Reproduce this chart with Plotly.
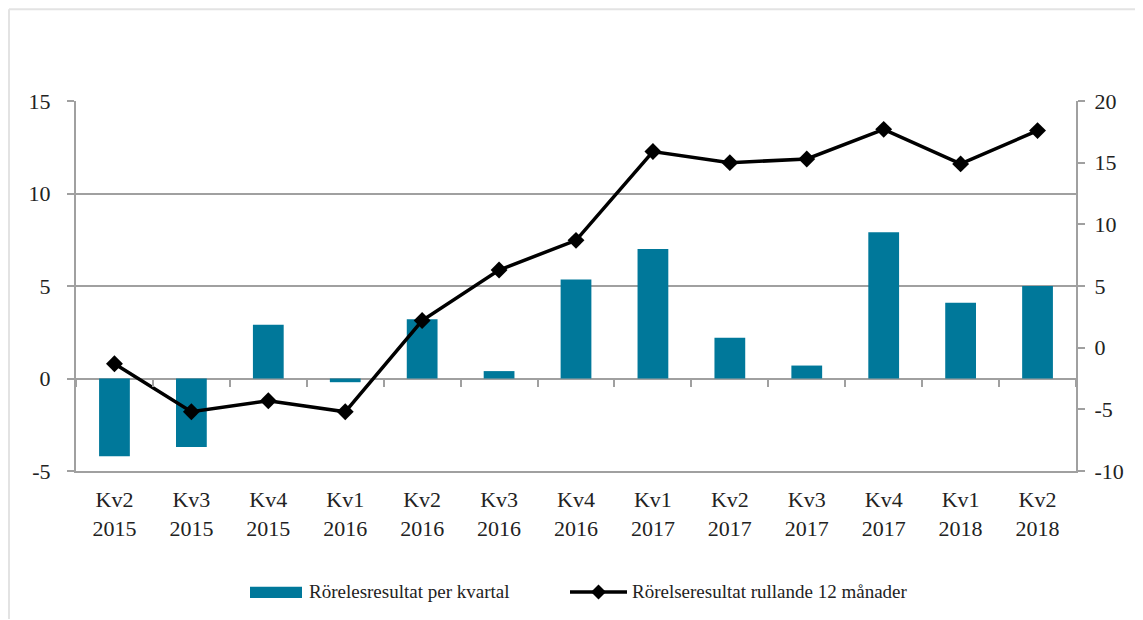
import plotly.graph_objects as go

quarters = ["Kv2<br>2015", "Kv3<br>2015", "Kv4<br>2015", "Kv1<br>2016", "Kv2<br>2016",
            "Kv3<br>2016", "Kv4<br>2016", "Kv1<br>2017", "Kv2<br>2017", "Kv3<br>2017",
            "Kv4<br>2017", "Kv1<br>2018", "Kv2<br>2018"]
per_kvartal = [-4.2, -3.7, 2.9, -0.2, 3.2, 0.4, 5.35, 7.0, 2.2, 0.7, 7.9, 4.1, 5.0]
rullande_12 = [-1.3, -5.2, -4.3, -5.2, 2.2, 6.3, 8.7, 15.9, 15.0, 15.3, 17.7, 14.9, 17.6]

left_ticks = [-5, 0, 5, 10, 15]
right_ticks = [-10, -5, 0, 5, 10, 15, 20]

name_bar = "Rörelesresultat per kvartal"
name_line = "Rörelseresultat rullande 12 månader"

FONT = "Liberation Serif"
GRID = "#a0a0a0"
BAR = "#00789a"
TXT = "#222222"

fig = go.Figure()
fig.add_trace(go.Bar(x=quarters, y=per_kvartal, name=name_bar, marker_color=BAR,
                     marker_line_width=0, yaxis="y", showlegend=False))
fig.add_trace(go.Scatter(x=quarters, y=rullande_12, name=name_line, yaxis="y2",
                         mode="lines+markers", line=dict(color="black", width=3.5),
                         marker=dict(symbol="diamond", size=13, color="black"),
                         showlegend=False))
# invisible helper trace to draw the category tick marks on the zero line
fig.add_trace(go.Scatter(x=quarters, y=per_kvartal, xaxis="x2", yaxis="y",
                         mode="markers", marker=dict(opacity=0), showlegend=False,
                         hoverinfo="skip"))

n = len(quarters)
fig.update_layout(
    width=1143, height=620,
    margin=dict(l=68, r=75, t=93, b=157),
    paper_bgcolor="white", plot_bgcolor="white",
    font=dict(family=FONT, size=22, color=TXT),
    bargap=0.6,
    xaxis=dict(type="category", range=[-0.5, n - 0.5], showgrid=False, showline=True,
               linecolor=GRID, linewidth=2, ticks="", tickfont=dict(family=FONT, size=22),
               zeroline=False, ticklabelstandoff=8),
    xaxis2=dict(type="category", overlaying="x", matches="x", anchor="free", position=0.2486,
                side="bottom", showgrid=False, showline=False, ticks="outside",
                tickson="boundaries", ticklen=7, tickcolor=GRID, tickwidth=2,
                showticklabels=False),
    yaxis=dict(range=[-5, 15], tickvals=left_ticks, ticktext=[str(v) for v in left_ticks],
               showgrid=True, gridcolor=GRID,
               gridwidth=2, showline=True, linecolor=GRID, linewidth=2, ticks="outside",
               ticklen=7, tickcolor=GRID, tickwidth=2, zeroline=True, zerolinecolor=GRID,
               zerolinewidth=2, tickfont=dict(family=FONT, size=22), ticklabelstandoff=12),
    yaxis2=dict(range=[-10, 20], tickvals=right_ticks, ticktext=[str(v) for v in right_ticks],
                overlaying="y",
                side="right", showgrid=False, showline=True, linecolor=GRID, linewidth=2,
                ticks="outside", ticklen=7, tickcolor=GRID, tickwidth=2, zeroline=False,
                tickfont=dict(family=FONT, size=22), ticklabelstandoff=5),
)

# light outer frame (top and left edge) of the original picture
fig.add_shape(type="line", xref="paper", yref="paper", x0=-0.067, x1=1.07, y0=1.248, y1=1.248,
              line=dict(color="#e3e3e3", width=2))
fig.add_shape(type="line", xref="paper", yref="paper", x0=-0.067, x1=-0.067, y0=1.248, y1=-0.4,
              line=dict(color="#e3e3e3", width=2))

# legend drawn to match the original's wide swatches
ly = -0.327
fig.add_shape(type="rect", xref="paper", yref="paper", x0=0.174, x1=0.226, y0=-0.343, y1=-0.313,
              fillcolor=BAR, line=dict(width=0))
fig.add_annotation(xref="paper", yref="paper", x=0.231, y=ly, text=name_bar, showarrow=False,
                   xanchor="left", yanchor="middle", font=dict(family=FONT, size=19, color=TXT))
fig.add_shape(type="line", xref="paper", yref="paper", x0=0.494, x1=0.551, y0=ly, y1=ly,
              line=dict(color="black", width=3.5))
dx, dy = 0.0075, 0.02
cx = 0.5225
fig.add_shape(type="path", xref="paper", yref="paper",
              path=f"M {cx - dx} {ly} L {cx} {ly + dy} L {cx + dx} {ly} L {cx} {ly - dy} Z",
              fillcolor="black", line=dict(width=0))
fig.add_annotation(xref="paper", yref="paper", x=0.554, y=ly, text=name_line, showarrow=False,
                   xanchor="left", yanchor="middle", font=dict(family=FONT, size=19, color=TXT))

fig.write_html("out.html")
